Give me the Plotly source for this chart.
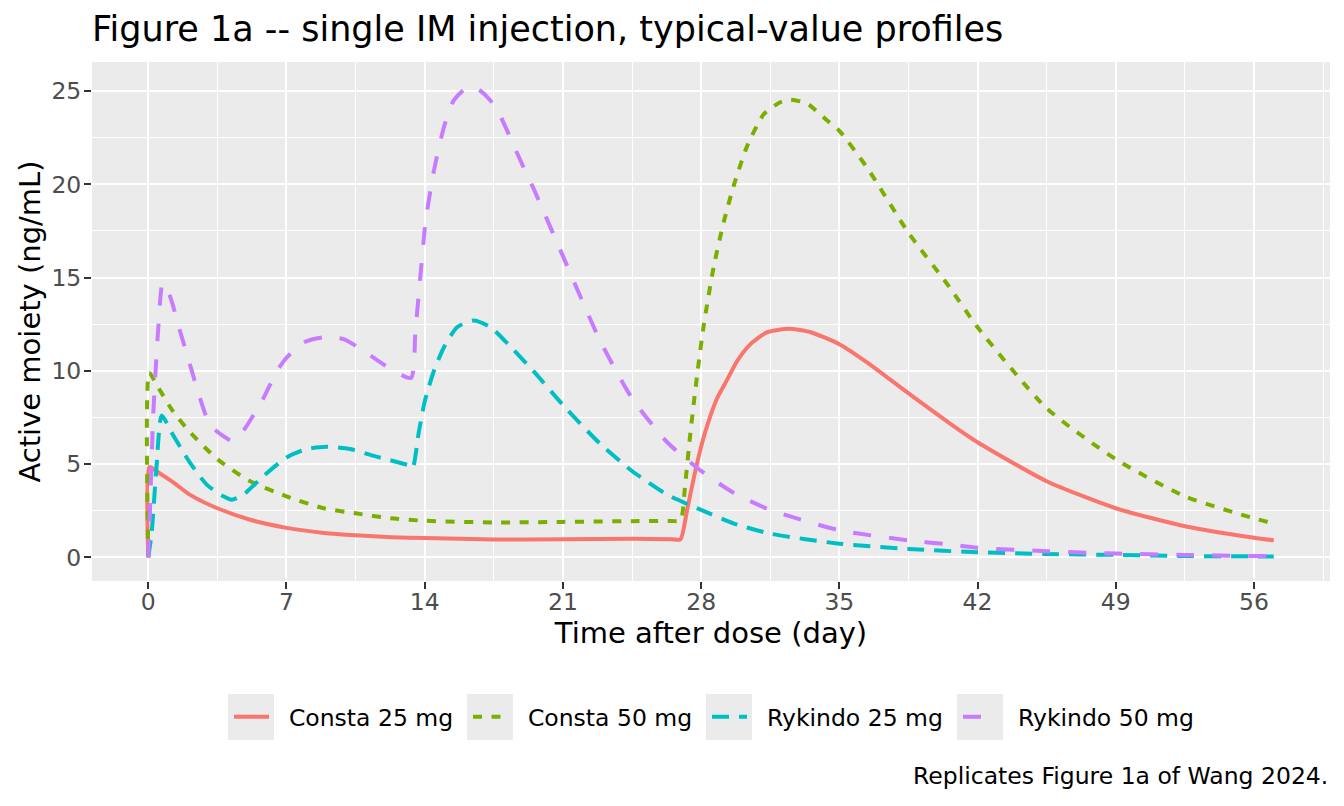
import plotly.graph_objects as go

# valores (dia, ng/mL)
consta25_day = [0, 0.05, 0.4, 0.8, 1.3, 2.1, 3.5, 5.2, 7, 8.9, 10.5, 12.3, 14, 17.5, 21, 24.5,
                26.5, 26.95, 27.29, 27.63, 27.97, 28.31, 28.81, 29.32, 29.83, 30.5, 31.35, 32.47,
                33.55, 35, 36.42, 38.49, 40.57, 42, 45.5, 49, 52.5, 56, 57]
consta25_conc = [0, 4.85, 4.63, 4.35, 3.99, 3.36, 2.63, 2.0, 1.58, 1.31, 1.18, 1.08, 1.03, 0.96, 0.97, 0.99,
                 0.97, 0.96, 2.54, 4.26, 5.81, 7.08, 8.53, 9.53, 10.53, 11.43, 12.07, 12.25,
                 12.07, 11.43, 10.44, 8.8, 7.2, 6.17, 4.08, 2.63, 1.67, 1.05, 0.91]

consta50_day = [0, 0.05, 0.42, 1.27, 2.11, 3.5, 5.16, 7, 8.88, 10.5, 12.26, 14, 17.5, 21, 24.5,
                26.5, 26.95, 27.2, 27.46, 27.8, 28.14, 28.64, 29.15, 29.66, 30.33, 31.18, 32.0,
                32.53, 33.38, 34.4, 35, 36.42, 38.5, 40.57, 42, 45.5, 49, 52.5, 56, 57]
consta50_conc = [0, 9.9, 9.26, 7.8, 6.72, 5.26, 4.08, 3.27, 2.63, 2.36, 2.09, 1.96, 1.87, 1.9, 1.94,
                 1.95, 1.96, 4.0, 6.7, 9.8, 12.5, 15.6, 18.0, 19.96, 22.05, 23.77, 24.4,
                 24.54, 24.32, 23.41, 22.87, 20.87, 17.4, 14.5, 12.34, 7.99, 5.26, 3.27, 2.09, 1.81]

rykindo25_day = [0, 0.17, 0.42, 0.68, 1.27, 2.11, 2.96, 3.8, 4.23, 4.82, 5.83, 7, 8.03, 9.05,
                 10.23, 11.42, 13.28, 13.4, 13.7, 14, 14.46, 14.97, 15.64, 16.49, 17.33,
                 18.07, 19.51, 21, 22.89, 24.5, 26.28, 28, 29.66, 31.5, 35, 38.5, 42, 45.5,
                 49, 52.5, 56, 57]
rykindo25_conc = [0, 1.3, 4.9, 7.6, 6.53, 5.08, 3.9, 3.27, 3.09, 3.36, 4.36, 5.35, 5.81, 5.93,
                  5.81, 5.44, 4.9, 4.8, 6.7, 8.35, 9.98, 11.25, 12.34, 12.7, 12.34,
                  11.6, 9.98, 8.17, 6.08, 4.63, 3.36, 2.54, 1.81, 1.27, 0.73, 0.45, 0.27, 0.18,
                  0.13, 0.07, 0.05, 0.05]

rykindo50_day = [0, 0.1, 0.25, 0.5, 0.73, 1.1, 1.6, 2.11, 2.62, 3.13, 3.8, 4.23, 4.82, 5.83,
                 6.51, 7, 7.86, 8.88, 9.89, 10.91, 11.92, 13.3, 13.53, 13.78, 14.04, 14.46,
                 14.97, 15.47, 16.15, 16.66, 17.33, 17.82, 18.18, 19.02, 19.51, 21, 22.89,
                 24.5, 26.28, 28, 29.66, 31.5, 35, 38.5, 40.57, 42, 45.5, 49, 52.5, 56, 57]
rykindo50_conc = [0, 3.0, 7.6, 12.2, 14.7, 14.0, 12.16, 10.34, 8.53, 7.08, 6.5, 6.25, 6.8, 8.53,
                  9.98, 10.7, 11.52, 11.8, 11.7, 11.07, 10.34, 9.62, 12.16, 15.06, 17.97, 20.69,
                  23.05, 24.5, 25.19, 25.14, 24.5, 23.68, 22.87, 20.87, 19.78, 16.15, 11.6,
                  8.53, 6.17, 4.63, 3.45, 2.54, 1.45, 0.91, 0.69, 0.51, 0.33, 0.2, 0.13, 0.07, 0.07]

x_ticks = [0, 7, 14, 21, 28, 35, 42, 49, 56]
y_ticks = [0, 5, 10, 15, 20, 25]

# nombre, dias, conc, color, trazo, ancho de la entrada de leyenda
series = [
    ("Consta 25 mg", consta25_day, consta25_conc, "#F8766D", "solid", 189),
    ("Consta 50 mg", consta50_day, consta50_conc, "#7CAE00", "9px,9.5px", 189),
    ("Rykindo 25 mg", rykindo25_day, rykindo25_conc, "#00BFC4", "17px,10px", 201),
    ("Rykindo 50 mg", rykindo50_day, rykindo50_conc, "#C77CFF", "18px,18px", 189),
]

FONT = "DejaVu Sans"
W, H = 1344, 806
ML, MR, MT, MB = 92, 14, 62, 225


def px_x(x):
    return (x - ML) / (W - ML - MR)


def px_y(y):
    return (H - MB - y) / (H - MT - MB)


fig = go.Figure()
for name, d, c, color, dash, lw in series:
    fig.add_trace(go.Scatter(x=d, y=c, mode="lines", name="  " + name, legendwidth=lw,
                             line=dict(color=color, width=4, dash=dash,
                                       shape="spline", smoothing=0.6)))

# fondo gris de las claves de la leyenda (estilo ggplot)
key_left = [228, 467, 706, 957]
shapes = [dict(type="rect", xref="paper", yref="paper", layer="below",
               x0=px_x(k), x1=px_x(k + 46), y0=px_y(740), y1=px_y(694),
               fillcolor="#EBEBEB", line=dict(width=0)) for k in key_left]

fig.update_layout(
    width=W, height=H,
    paper_bgcolor="white",
    plot_bgcolor="#EBEBEB",
    font=dict(family=FONT, color="black"),
    title=dict(text="Figure 1a -- single IM injection, typical-value profiles",
               x=0, xref="paper", xanchor="left", y=1 - 28.5 / H, yanchor="middle",
               font=dict(size=35, color="black")),
    margin=dict(l=ML, r=MR, t=MT, b=MB),
    showlegend=True,
    legend=dict(orientation="h", x=px_x(229), xanchor="left", y=px_y(717), yanchor="middle",
                font=dict(size=23.5), itemwidth=35, bgcolor="rgba(0,0,0,0)"),
    shapes=shapes,
    annotations=[dict(text="Replicates Figure 1a of Wang 2024.", xref="paper", yref="paper",
                      x=1, y=px_y(776), xanchor="right", yanchor="middle", showarrow=False,
                      font=dict(size=23.5, color="black"))],
)

fig.update_xaxes(
    range=[-2.85, 59.85], tickvals=x_ticks, ticks="outside", ticklen=7, tickwidth=2,
    tickcolor="#333333", tickfont=dict(size=23.5, color="#4D4D4D"), ticklabelstandoff=-7,
    showgrid=True, gridcolor="white", gridwidth=2.4, zeroline=False,
    minor=dict(tickvals=[3.5, 10.5, 17.5, 24.5, 31.5, 38.5, 45.5, 52.5, 59.5],
               showgrid=True, gridcolor="white", gridwidth=1.2, ticks=""),
    title=dict(text="Time after dose (day)", font=dict(size=29), standoff=4),
    showline=False,
)
fig.update_yaxes(
    range=[-1.27, 26.56], tickvals=y_ticks, ticks="outside", ticklen=7, tickwidth=2,
    tickcolor="#333333", tickfont=dict(size=23.5, color="#4D4D4D"), ticklabelstandoff=-2,
    showgrid=True, gridcolor="white", gridwidth=2.4, zeroline=False,
    minor=dict(tickvals=[2.5, 7.5, 12.5, 17.5, 22.5],
               showgrid=True, gridcolor="white", gridwidth=1.2, ticks=""),
    title=dict(text="Active moiety (ng/mL)", font=dict(size=29), standoff=2),
    showline=False,
)

fig.write_html("out.html", config={"displayModeBar": False},
               post_script="document.body.style.margin='0px';")
